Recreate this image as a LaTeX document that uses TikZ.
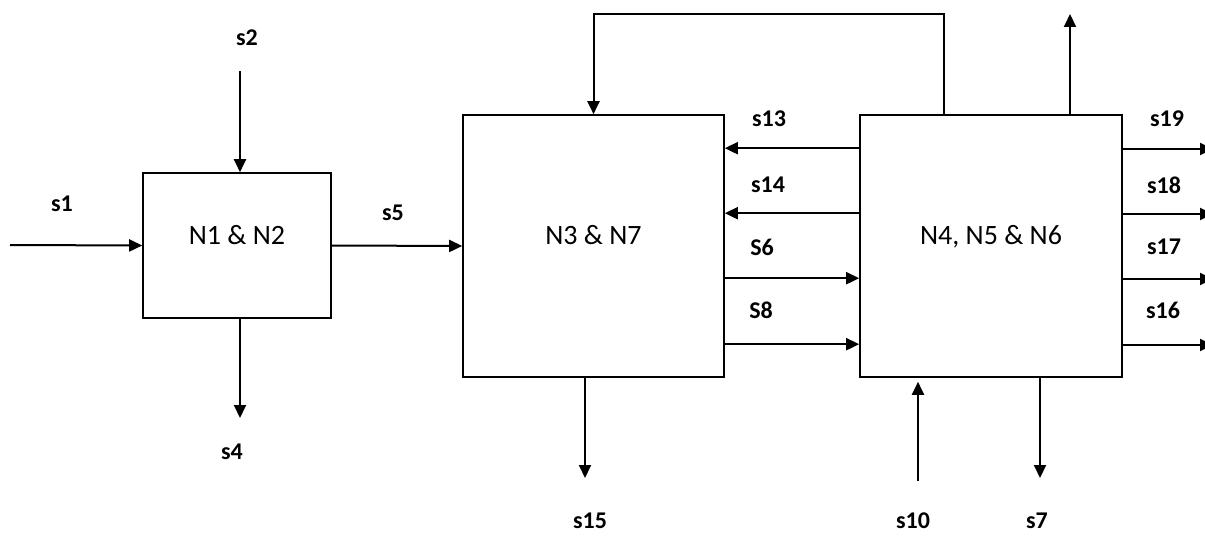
\documentclass[tikz,border=0pt]{standalone}
\usepackage{fontspec}
\setmainfont{Carlito}
\usepackage{tikz}
\usetikzlibrary{arrows.meta, positioning}
\tikzstyle{arrow} = [line width=2pt,-{Triangle[length=13pt,width=12pt]}]
\tikzstyle{block} = [rectangle, draw=black, line width=1.6pt, text depth=22pt, font=\fontsize{28}{32}\selectfont]
\tikzstyle{stream} = [font=\bfseries\fontsize{24}{28}\selectfont]

\begin{document}
\begin{tikzpicture}[x=1pt, y=-1pt]
\useasboundingbox (0,0) rectangle (1205,543);
\clip (0,0) rectangle (1205,543);

% Units
\node (n12) [block, minimum width=188pt, minimum height=145pt] at (237,245.5) {N1 \& N2};
\node (n37) [block, minimum width=261pt, minimum height=262pt] at (593.5,246) {N3 \& N7};
\node (n456) [block, minimum width=262pt, minimum height=262pt] at (991,246) {N4, N5 \& N6};

% Free ends
\coordinate (s1in) at (10,245);
\coordinate (s2in) at (240,71);
\coordinate (s4out) at (240,418);
\coordinate (s15out) at (585,478);
\coordinate (recycle) at (944,14);
\coordinate (topout) at (1070,14);
\coordinate (s10in) at (918,481);
\coordinate (s7out) at (1040,478);
\coordinate (s19out) at (1213,149);
\coordinate (s18out) at (1213,214);
\coordinate (s17out) at (1213,279);
\coordinate (s16out) at (1213,345);

% Streams
\draw [arrow] (s1in) -- (n12.west);
\draw [arrow] (s2in) -- (s2in |- n12.north);
\draw [arrow] (s4out |- n12.south) -- (s4out);
\draw [arrow] (n12.east) -- (n37.west);
\draw [arrow] (s15out |- n37.south) -- (s15out);
\draw [arrow] (recycle |- n456.north) -- (recycle) -| (n37.north);
\draw [arrow] (topout |- n456.north) -- (topout);
\draw [arrow, shorten >=4pt] (s10in) -- (s10in |- n456.south);
\draw [arrow] (s7out |- n456.south) -- (s7out);

\draw [arrow] ([yshift=-34pt]n456.north west) -- ([yshift=-34pt]n37.north east);
\draw [arrow] ([yshift=-99pt]n456.north west) -- ([yshift=-99pt]n37.north east);
\draw [arrow] ([yshift=-164pt]n37.north east) -- ([yshift=-164pt]n456.north west);
\draw [arrow] ([yshift=-230pt]n37.north east) -- ([yshift=-230pt]n456.north west);

\draw [arrow] (s19out -| n456.east) -- (s19out);
\draw [arrow] (s18out -| n456.east) -- (s18out);
\draw [arrow] (s17out -| n456.east) -- (s17out);
\draw [arrow] (s16out -| n456.east) -- (s16out);

% Stream labels
\node (ls1) [stream] at (62,204) {s1};
\node (ls2) [stream] at (247,38) {s2};
\node (ls4) [stream] at (232,452) {s4};
\node (ls5) [stream] at (393,213) {s5};
\node (ls13) [stream] at (769,119) {s13};
\node (ls14) [stream] at (768,185) {s14};
\node (ls6) [stream] at (762,247) {S6};
\node (ls8) [stream] at (761,310) {S8};
\node (ls15) [stream] at (590,521) {s15};
\node (ls19) [stream] at (1167,119) {s19};
\node (ls18) [stream] at (1164,185) {s18};
\node (ls17) [stream] at (1164,247) {s17};
\node (ls16) [stream] at (1163,310) {s16};
\node (ls10) [stream] at (913,521) {s10};
\node (ls7) [stream] at (1037,521) {s7};

\end{tikzpicture}
\end{document}
